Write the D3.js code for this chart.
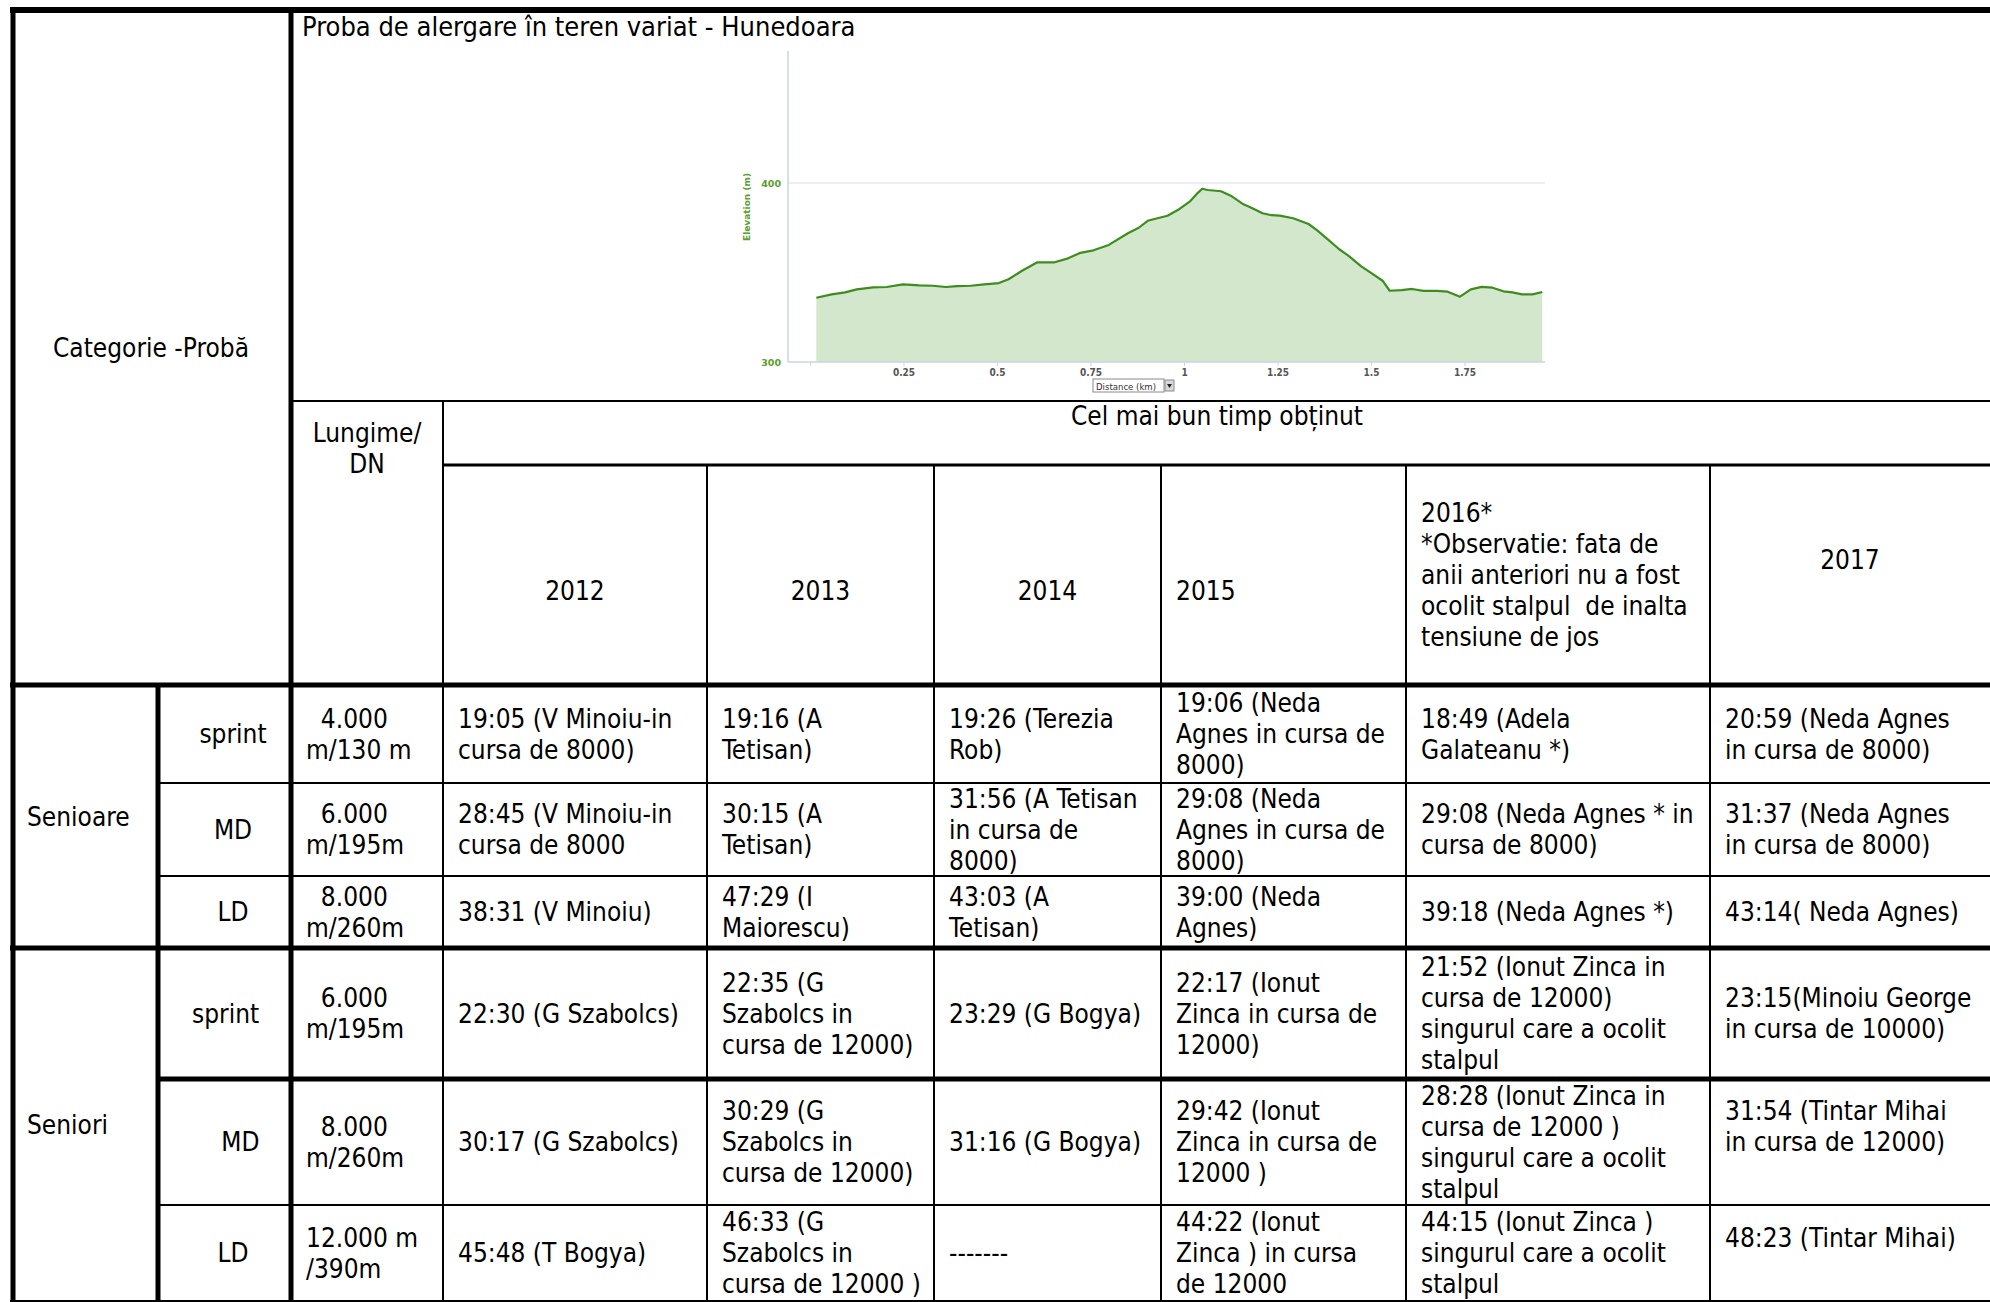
<!DOCTYPE html>
<html><head><meta charset="utf-8">
<script src="https://cdnjs.cloudflare.com/ajax/libs/d3/7.8.5/d3.min.js"></script>
<style>
html,body{margin:0;padding:0;background:#fff;}
svg{display:block;}
text{white-space:pre;}
</style></head><body>
<svg id="c" width="1990" height="1302"></svg>
<script>
// ---------------- DATA ----------------
const chartTitle = "Proba de alergare în teren variat - Hunedoara";
const distKm = [0.017,0.058,0.094,0.125,0.169,0.205,0.249,0.292,0.328,0.364,0.393,0.430,0.466,0.505,0.531,0.567,0.608,0.654,0.690,0.723,0.758,0.799,0.850,0.879,0.903,0.929,0.956,0.988,1.017,1.034,1.049,1.063,1.099,1.125,1.159,1.180,1.210,1.234,1.256,1.292,1.333,1.357,1.386,1.415,1.441,1.473,1.502,1.531,1.550,1.582,1.610,1.640,1.676,1.705,1.738,1.767,1.796,1.825,1.854,1.878,1.904,1.932,1.958];
const elevM = [335.9,337.8,338.9,340.6,341.7,341.9,343.4,342.8,342.6,341.9,342.4,342.6,343.4,344.1,346.2,351.0,355.7,355.7,357.9,361.0,362.4,365.4,371.9,375.0,378.9,380.3,381.7,385.5,389.9,393.9,396.8,396.1,395.4,392.9,388.1,386.2,383.1,382.0,381.8,380.3,377.1,373.4,368.2,363.0,359.2,353.6,349.5,345.4,339.8,340.2,340.8,339.7,339.7,339.3,336.5,340.6,342.0,341.5,339.5,338.9,337.8,337.8,339.1];
const xTickValues = [0.25,0.5,0.75,1,1.25,1.5,1.75];
const yTickValues = [300,400];
const yAxisTitle = "Elevation (m)";
const xAxisTitle = "Distance (km)";

const cornerLabel = "Categorie -Probă";
const lungimeHeader = ["Lungime/","DN"];
const timeHeader = "Cel mai bun timp obținut";
const categories = ["Senioare","Seniori"];
const probe = ["sprint","MD","LD","sprint  ","  MD","LD"];
const lungime = [["  4.000","m/130 m"],["  6.000","m/195m"],["  8.000","m/260m"],["  6.000","m/195m"],["  8.000","m/260m"],["12.000 m","/390m"]];
const yearHeaders = [
  ["","2012"],["","2013"],["","2014"],["","2015"],
  ["2016*","*Observatie: fata de","anii anteriori nu a fost","ocolit stalpul  de inalta","tensiune de jos"],
  ["2017",""]
];
const res2012 = ["19:05 (V Minoiu-in|cursa de 8000)","28:45 (V Minoiu-in|cursa de 8000","38:31 (V Minoiu)","22:30 (G Szabolcs)","30:17 (G Szabolcs)","45:48 (T Bogya)"];
const res2013 = ["19:16 (A|Tetisan)","30:15 (A|Tetisan)","47:29 (I|Maiorescu)","22:35 (G|Szabolcs in|cursa de 12000)","30:29 (G|Szabolcs in|cursa de 12000)","46:33 (G|Szabolcs in|cursa de 12000 )"];
const res2014 = ["19:26 (Terezia|Rob)","31:56 (A Tetisan|in cursa de|8000)","43:03 (A|Tetisan)","23:29 (G Bogya)","31:16 (G Bogya)","-------"];
const res2015 = ["19:06 (Neda|Agnes in cursa de|8000)","29:08 (Neda|Agnes in cursa de|8000)","39:00 (Neda|Agnes)","22:17 (Ionut|Zinca in cursa de|12000)","29:42 (Ionut|Zinca in cursa de|12000 )","44:22 (Ionut|Zinca ) in cursa|de 12000"];
const res2016 = ["18:49 (Adela|Galateanu *)","29:08 (Neda Agnes * in|cursa de 8000)","39:18 (Neda Agnes *)","21:52 (Ionut Zinca in|cursa de 12000)|singurul care a ocolit|stalpul","28:28 (Ionut Zinca in|cursa de 12000 )|singurul care a ocolit|stalpul","44:15 (Ionut Zinca )|singurul care a ocolit|stalpul"];
const res2017 = ["20:59 (Neda Agnes|in cursa de 8000)","31:37 (Neda Agnes|in cursa de 8000)","43:14( Neda Agnes)","23:15(Minoiu George|in cursa de 10000)","31:54 (Tintar Mihai|in cursa de 12000)|","48:23 (Tintar Mihai)|"];

// ---------------- LAYOUT ----------------
const W = 1990, H = 1302;
const FONT = "'DejaVu Sans Condensed','DejaVu Sans',sans-serif";
const FS = 26, LH = 31, BASE = 9;
const colX = [13,158,291,443,707,934,1161,1406,1710,1990];
const rowY = [685,783,876,948,1079,1205,1301];
const svg = d3.select("#c");
svg.append("rect").attr("width",W).attr("height",H).attr("fill","#fff");

function lines(g, arr, x, cy, anchor, fs){
  const n = arr.length;
  arr.forEach((t,i)=>{
    g.append("text").attr("x",x).attr("y",cy+(i-(n-1)/2)*LH+BASE)
     .attr("text-anchor",anchor||"start")
     .attr("font-family",FONT).attr("font-stretch","condensed").attr("font-size",fs||FS)
     .attr("fill","#000").text(t);
  });
}
const T = svg.append("g");

// ---------------- CHART ----------------
const ch = svg.append("g");
const xS = d3.scaleLinear().domain([0,2]).range([810,1558]);
const yS = d3.scaleLinear().domain([300,400]).range([362,183]);
const pts = distKm.map((d,i)=>({d:d,e:elevM[i]}));
ch.append("line").attr("x1",788).attr("x2",1545).attr("y1",yS(400)).attr("y2",yS(400)).attr("stroke","#e6e9ee").attr("stroke-width",1.5);
ch.append("path").datum(pts).attr("fill","#d3e7cc")
  .attr("d",d3.area().x(d=>xS(d.d)).y0(yS(300)).y1(d=>yS(d.e)));
ch.append("path").datum(pts).attr("fill","none").attr("stroke","#3c8d1e").attr("stroke-width",2.2).attr("stroke-linejoin","round")
  .attr("d",d3.line().x(d=>xS(d.d)).y(d=>yS(d.e)));
ch.append("line").attr("x1",788).attr("x2",788).attr("y1",yS(300)).attr("y2",51).attr("stroke","#c9d5e3").attr("stroke-width",1.5);
ch.append("line").attr("x1",788).attr("x2",1545).attr("y1",yS(300)).attr("y2",yS(300)).attr("stroke","#c9d5e3").attr("stroke-width",1.5);
const xa = ch.append("g").attr("transform",`translate(0,${yS(300)})`)
  .call(d3.axisBottom(xS).tickValues([0].concat(xTickValues)).tickSize(4).tickPadding(3).tickFormat(d=>d===0?"":d3.format("")(d)));
xa.select(".domain").remove();
xa.selectAll(".tick line").attr("stroke","#c9d5e3");
xa.selectAll(".tick text").attr("font-family","'Liberation Sans Narrow','DejaVu Sans Condensed',sans-serif")
  .attr("font-size",10).attr("font-weight","bold").attr("fill","#555");
const ya = ch.append("g").attr("transform","translate(781,0)")
  .call(d3.axisLeft(yS).tickValues(yTickValues).tickSize(0).tickPadding(0).tickFormat(d3.format("d")));
ya.select(".domain").remove();
ya.selectAll(".tick text").attr("font-family","'DejaVu Sans',sans-serif").attr("font-size",9.5).attr("font-weight","bold").attr("fill","#5a9e2e");
ch.append("text").attr("transform","translate(750,207) rotate(-90)").attr("text-anchor","middle")
  .attr("font-family","'DejaVu Sans',sans-serif").attr("font-size",9).attr("font-weight","bold").attr("fill","#5a9e2e").text(yAxisTitle);
ch.append("rect").attr("x",1093).attr("y",379).attr("width",71).attr("height",13).attr("fill","#fff").attr("stroke","#8a8a8a");
ch.append("text").attr("x",1096).attr("y",389.5).attr("font-family","'Liberation Sans Narrow','DejaVu Sans Condensed',sans-serif").attr("font-size",9.5).attr("fill","#333").text(xAxisTitle);
ch.append("rect").attr("x",1165).attr("y",380).attr("width",9).attr("height",11).attr("fill","#d8d8d8").attr("stroke","#8a8a8a");
ch.append("path").attr("d","M1167,384 L1172,384 L1169.5,388 Z").attr("fill","#222");

// title
T.append("text").attr("x",302).attr("y",36).attr("font-family",FONT).attr("font-stretch","condensed").attr("font-size",27).attr("fill","#000").text(chartTitle);

// ---------------- TABLE TEXT ----------------
lines(T,[cornerLabel],151,348,"middle");
lines(T,lungimeHeader,367,448,"middle");
lines(T,[timeHeader],1217,416,"middle");
const yearCx = [575,820.5,1047.5,null,null,1850];
yearHeaders.forEach((h,i)=>{
  const c = (465+685)/2;
  if (yearCx[i]!==null) lines(T,h,yearCx[i],c,"middle");
  else lines(T,h,colX[i+3]+15,c,"start");
});
lines(T,[categories[0]],27,(rowY[0]+rowY[3])/2,"start");
lines(T,[categories[1]],27,(rowY[3]+rowY[6])/2,"start");
const results = [res2012,res2013,res2014,res2015,res2016,res2017];
probe.forEach((p,r)=>{
  const cy = (rowY[r]+rowY[r+1])/2;
  lines(T,[p],233,cy,"middle");
  lines(T,lungime[r],306,cy,"start");
  results.forEach((col,c)=>{
    lines(T,col[r].split("|"),colX[c+3]+15,cy,"start");
  });
});

// ---------------- GRID LINES ----------------
const G = svg.append("g").attr("stroke","#000").attr("stroke-linecap","butt");
function hl(y,x1,x2,w){G.append("line").attr("x1",x1).attr("x2",x2).attr("y1",y).attr("y2",y).attr("stroke-width",w);}
function vl(x,y1,y2,w){G.append("line").attr("x1",x).attr("x2",x).attr("y1",y1).attr("y2",y2).attr("stroke-width",w);}
hl(10,10,W,6);
hl(401,291,W,2);
hl(465,443,W,3);
hl(rowY[0],10,W,5);
hl(rowY[1],158,W,2);
hl(rowY[2],158,W,2);
hl(rowY[3],10,W,5);
hl(rowY[4],158,W,5);
hl(rowY[5],158,W,2);
hl(rowY[6],10,W,2);
vl(colX[0],7,H,5);
vl(colX[1],rowY[0],H,5);
vl(colX[2],7,H,5);
vl(colX[3],401,H,2);
for(let i=4;i<=8;i++) vl(colX[i],465,H,2);
</script>
</body></html>
